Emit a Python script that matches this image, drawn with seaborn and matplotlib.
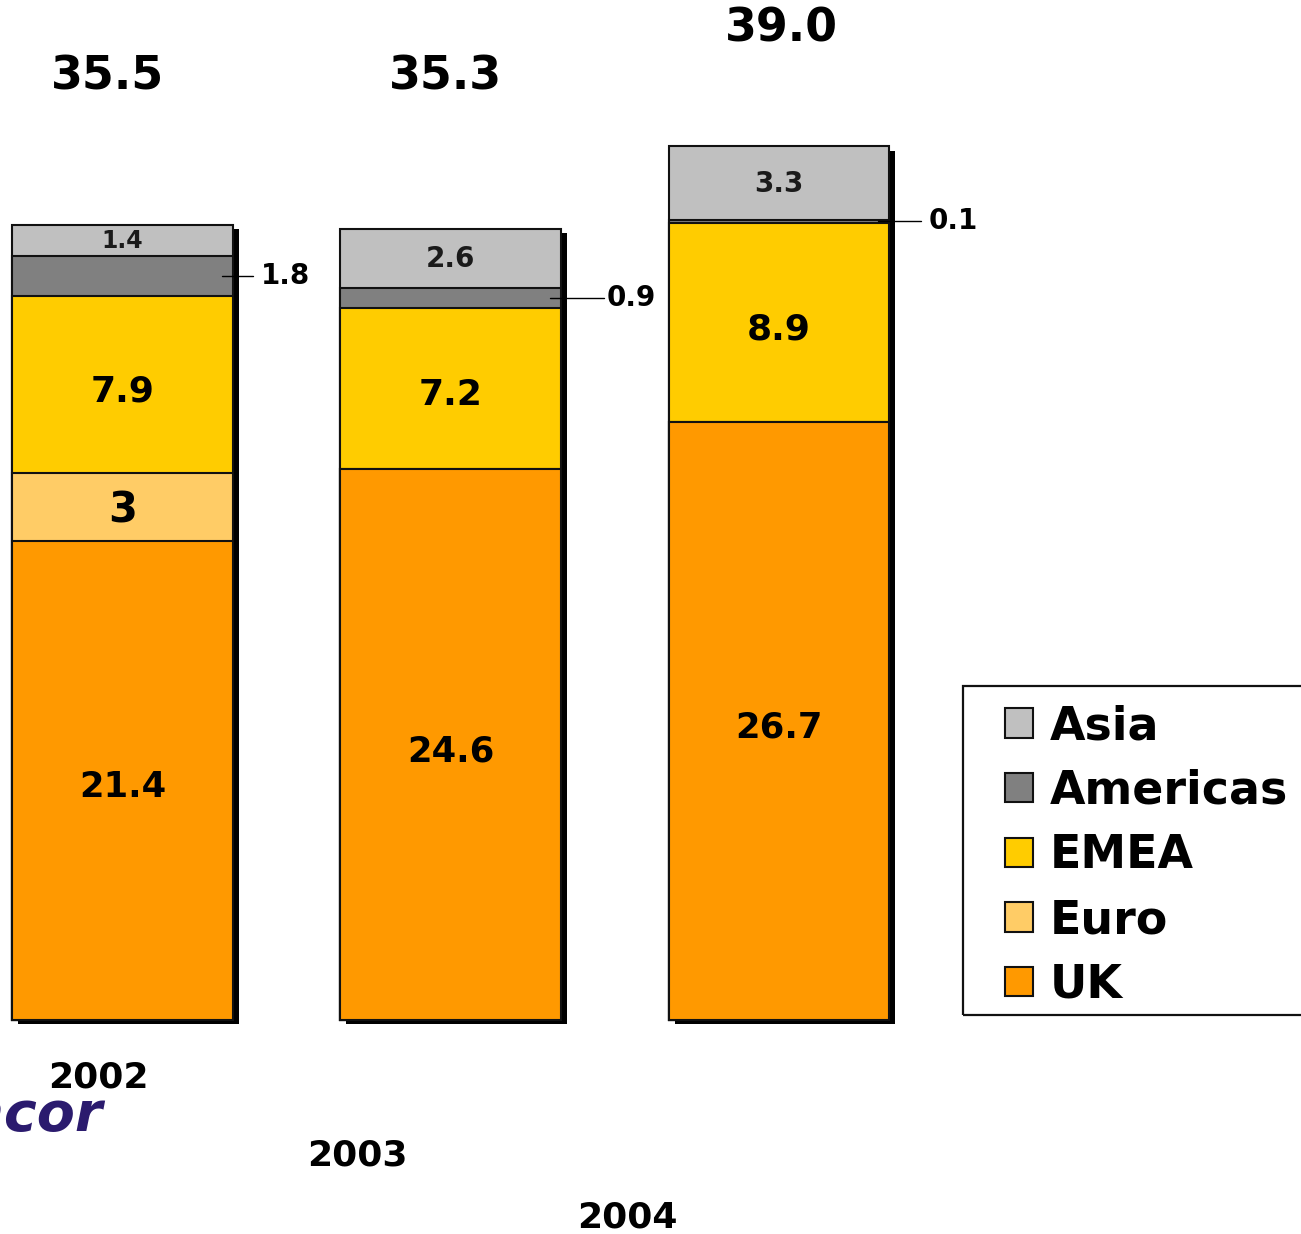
import matplotlib
matplotlib.use("Agg")
import matplotlib.pyplot as plt
import matplotlib.patheffects as pe
from matplotlib.patches import Patch, Rectangle
import seaborn as sns
import pandas as pd

# ---- data ----
years = ["2002", "2003", "2004"]
regions = ["UK", "Euro", "EMEA", "Americas", "Asia"]          # stacking order, bottom to top
uk = [21.4, 24.6, 26.7]
euro = [3.0, 0.0, 0.0]
emea = [7.9, 7.2, 8.9]
americas = [1.8, 0.9, 0.1]
asia = [1.4, 2.6, 3.3]
totals = [35.5, 35.3, 39.0]
euro_labels = ["3", "", ""]

colors = {"Asia": "#C0C0C0", "Americas": "#808080", "EMEA": "#FFCC00",
          "Euro": "#FFCC66", "UK": "#FF9900"}

# ---- layout ----
W, H = 1301, 1234
BAR_W = 0.673
X0_PX, DX_PX = 122.5, 328.25       # centre of first bar, bar spacing (pixels)
Y0_PX, DY_PX = 1020.0, 22.4        # baseline, pixels per unit

sns.set_theme(style="white")
plt.rcParams["font.family"] = ["DejaVu Sans"]
plt.rcParams["text.color"] = "black"

fig = plt.figure(figsize=(W / 100, H / 100), dpi=100)
ax = fig.add_axes([0, 0, 1, 1])

df = pd.DataFrame({"year": years, "UK": uk, "Euro": euro, "EMEA": emea,
                   "Americas": americas, "Asia": asia})
cum = df[regions].cumsum(axis=1)
cum["year"] = years

# draw cumulative heights from the top layer down so each region shows as a band
for k, reg in enumerate(reversed(regions)):
    n_before = len(ax.patches)
    sns.barplot(data=cum, x="year", y=reg, order=years, color=colors[reg],
                saturation=1, width=BAR_W, errorbar=None, edgecolor="#111111",
                linewidth=1.5, ax=ax)
    if k == 0:
        for p in ax.patches[n_before:]:
            p.set_path_effects([pe.SimplePatchShadow(offset=(4.3, -3.0),
                                                     shadow_rgbFace="black", alpha=1.0),
                                pe.Normal()])

ax.set_xlim(-X0_PX / DX_PX, (W - X0_PX) / DX_PX)
ax.set_ylim(-(H - Y0_PX) / DY_PX, Y0_PX / DY_PX)
ax.axis("off")

def px_y(y_px):
    return (Y0_PX - y_px) / DY_PX

def px_x(x_px):
    return (x_px - X0_PX) / DX_PX

# ---- labels inside the segments ----
big_drop = 7 / DY_PX       # large labels sit slightly below the band centre
leader_len = [20, 43, 32]  # pixels beyond the bar edge
leader_gap = [8, 2, 7]
for i in range(len(years)):
    base = 0.0
    for reg in regions:
        v = df.loc[i, reg]
        mid = base + v / 2
        if reg == "UK":
            ax.text(i, mid - big_drop, f"{v:.1f}", ha="center", va="center",
                    fontsize=25.5, fontweight="bold")
        elif reg == "EMEA":
            ax.text(i, mid - big_drop, f"{v:.1f}", ha="center", va="center",
                    fontsize=26, fontweight="bold")
        elif reg == "Euro" and euro_labels[i]:
            ax.text(i, mid - big_drop * 0.5, euro_labels[i], ha="center", va="center",
                    fontsize=30, fontweight="bold")
        elif reg == "Asia":
            ax.text(i, mid - 1 / DY_PX, f"{v:.1f}", ha="center", va="center",
                    fontsize=17 if v < 2 else 20, fontweight="bold", color="#1a1a1a")
        elif reg == "Americas":
            inner = i + BAR_W / 2 - 11 / DX_PX
            outer = i + BAR_W / 2 + leader_len[i] / DX_PX
            ax.plot([inner, outer], [mid, mid], color="black", lw=1.0)
            ax.text(outer + leader_gap[i] / DX_PX, mid, f"{v:.1f}", ha="left", va="center",
                    fontsize=20, fontweight="bold")
        base += v

# ---- totals above the bars ----
total_pos = [(108, 77), (445, 77), (781, 29)]
for t, (xp, yp) in zip(totals, total_pos):
    ax.text(px_x(xp), px_y(yp), f"{t:.1f}", ha="center", va="center",
            fontsize=33, fontweight="bold")

# ---- year labels ----
year_pos = [(98, 1077), (357, 1155), (627, 1217)]
for y, (xp, yp) in zip(years, year_pos):
    ax.text(px_x(xp), px_y(yp), y, ha="center", va="center",
            fontsize=26, fontweight="bold")

# ---- company wordmark, partly off the left edge ----
ax.text(px_x(103), px_y(1116), "Amcor", ha="right", va="center",
        fontsize=40, fontweight="heavy", style="italic", color="#2B1B6E")

# ---- legend ----
handles = [Patch(facecolor=colors[r], edgecolor="#111111", linewidth=1.5, label=r)
           for r in ["Asia", "Americas", "EMEA", "Euro", "UK"]]
leg = ax.legend(handles=handles, loc="upper left",
                bbox_to_anchor=(1005 / W, 1 - 704 / H), bbox_transform=fig.transFigure,
                frameon=False, borderpad=0, prop={"size": 33, "weight": "bold"},
                handlelength=0.61, handleheight=0.61, handletextpad=0.37,
                labelspacing=0.43, borderaxespad=0, labelcolor="black")
fig.patches.append(Rectangle((963 / W, 1 - 1015 / H), (W + 10 - 963) / W, (1015 - 686) / H,
                             transform=fig.transFigure, fill=False,
                             edgecolor="#111111", linewidth=1.6, clip_on=False))

fig.savefig("out.png", dpi=100)
